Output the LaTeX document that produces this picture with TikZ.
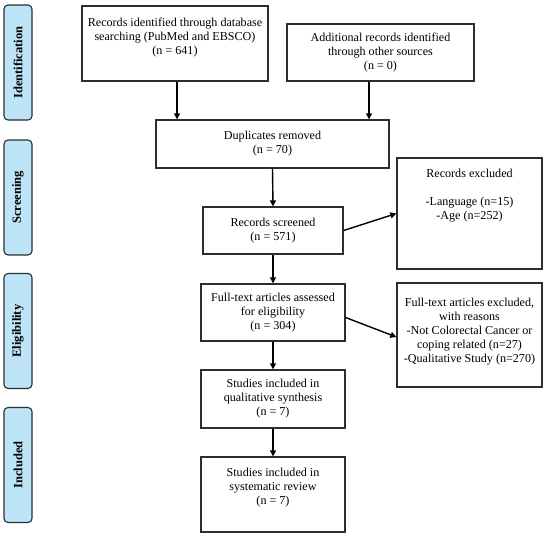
\documentclass[tikz,border=0pt]{standalone}
\usepackage{fontspec}
\setmainfont{Liberation Serif}
\usetikzlibrary{arrows.meta}
\usetikzlibrary{positioning}
\definecolor{stagefill}{RGB}{189,228,247}
\definecolor{boxline}{RGB}{45,45,45}
\tikzset{x=1pt, y=-1pt,   % one unit is one pixel of the reference, y runs down
         every node/.style={font=\fontsize{12.1}{14}\selectfont},
         flowbox/.style={     % the white boxes of the flow
           draw=boxline,
           line width=1.3pt,
           align=center,
           inner sep=2pt},
         toptext/.style={     % text that sits at the top of its box
           anchor=north,
           align=center,
           inner sep=0pt},
         stage/.style={       % the blue tabs on the left
           draw=boxline,
           fill=stagefill,
           rounded corners=4pt,
           line width=1.1pt,
           minimum width=115pt,
           minimum height=28pt,
           rotate=90,
           font=\fontsize{12.5}{14}\selectfont\bfseries},
         flow/.style={        % the arrows
           -{Triangle[length=6pt,width=6pt]},
           line width=1.4pt}}

\begin{document}
\begin{tikzpicture}
\useasboundingbox (0,0) rectangle (550,538);

\begin{scope}[every node/.append style={stage}]
    \node (ident) at (18,62.5) {Identification};
    \node (scrn) at (18,197.5) {Screening};
    \node (elig) at (18,331) {Eligibility};
    \node (incl) at (18,465) {Included};
\end{scope}

\begin{scope}[every node/.append style={flowbox}]
    \node[minimum width=186pt, minimum height=75pt,
          label={[toptext, yshift=-12pt]north:Records identified through database\\searching (PubMed and EBSCO)\\(n = 641)}]
          (recid) at (175,43.5) {};
    \node[minimum width=187pt, minimum height=57pt] (addrec) at (380.5,52.5)
          {Additional records identified\\through other sources\\(n = 0)};
    \node[minimum width=233pt, minimum height=48pt] (dupl) at (272.5,144)
          {Duplicates removed\\(n = 70)};
    \node[minimum width=140pt, minimum height=47pt] (screen) at (273,230.5)
          {Records screened\\(n = 571)};
    \node[minimum width=145pt, minimum height=111pt,
          label={[toptext, yshift=-11pt]north:Records excluded\\[14pt]-Language (n=15)\\-Age (n=252)}]
          (excl1) at (469.5,213.5) {};
    \node[minimum width=144pt, minimum height=57pt] (fulltext) at (273,312.5)
          {Full-text articles assessed\\for eligibility\\(n = 304)};
    \node[minimum width=145pt, minimum height=104pt,
          label={[toptext, yshift=-15pt]north:Full-text articles excluded,\\with reasons\\-Not Colorectal Cancer or\\coping related (n=27)\\-Qualitative Study (n=270)}]
          (excl2) at (469.5,335) {};
    \node[minimum width=144pt, minimum height=58pt] (qualsyn) at (273,399)
          {Studies included in\\qualitative synthesis\\(n = 7)};
    \node[minimum width=144pt, minimum height=75pt,
          label={[toptext, yshift=-11pt]north:Studies included in\\systematic review\\(n = 7)}]
          (sysrev) at (273,494.5) {};
\end{scope}

% arrows between the boxes
\draw[flow] ([xshift=2pt]recid.south) -- ([xshift=2pt]recid.south |- dupl.north);
\draw[flow] ([xshift=-11.5pt]addrec.south) -- ([xshift=-11.5pt]addrec.south |- dupl.north);
\draw[flow] (dupl.south) -- (screen.north);
\draw[flow] (screen.south) -- (fulltext.north);
\draw[flow] (screen.east) -- (excl1.west);
\draw[flow] ([yshift=-5pt]fulltext.east) -- ([yshift=-2pt]excl2.west);
\draw[flow] (fulltext.south) -- (qualsyn.north);
\draw[flow] (qualsyn.south) -- (sysrev.north);
\end{tikzpicture}
\end{document}
